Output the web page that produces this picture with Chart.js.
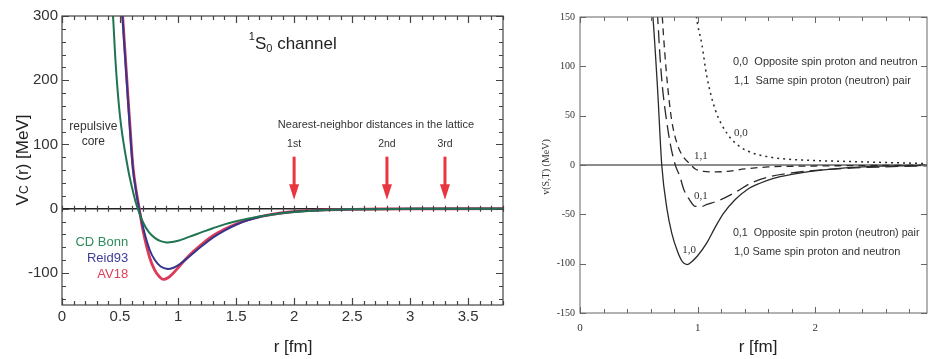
<!DOCTYPE html>
<html>
<head>
<meta charset="utf-8">
<script src="https://cdn.jsdelivr.net/npm/chart.js@4.4.0/dist/chart.umd.min.js"></script>
<style>
html, body { margin: 0; padding: 0; background: #fff; }
#wrap { position: relative; width: 929px; height: 359px; overflow: hidden; }
#leftChart { position: absolute; left: 0; top: 0; }
#rightChart { position: absolute; left: 512px; top: 0; }
</style>
</head>
<body>
<div id="wrap">
  <canvas id="leftChart" width="512" height="359"></canvas>
  <canvas id="rightChart" width="417" height="359"></canvas>
</div>
<script>
// ---- left panel: 1S0 channel potentials ----
var leftXTicks = [0, 0.5, 1, 1.5, 2, 2.5, 3, 3.5];
var leftYTicks = [-100, 0, 100, 200, 300];

var rCDBonn = [0.42, 0.44, 0.47, 0.51, 0.57, 0.61, 0.647, 0.70, 0.75, 0.80, 0.85, 0.90, 0.95, 1.00, 1.05, 1.10, 1.20, 1.30, 1.40, 1.50, 1.60, 1.76, 1.98, 2.20, 2.50, 3.00, 3.80];
var vCDBonn = [360, 299, 206, 128, 61, 28, 3, -22, -37, -45.5, -50.5, -52.5, -52, -50, -47, -43.5, -37, -30.5, -24.5, -19.5, -15.5, -10.5, -5.5, -2.7, -1, -0.3, 0];

var rReid93 = [0.50, 0.521, 0.555, 0.584, 0.612, 0.64, 0.661, 0.70, 0.755, 0.80, 0.85, 0.91, 0.96, 1.01, 1.10, 1.20, 1.30, 1.40, 1.50, 1.60, 1.76, 1.98, 2.20, 2.50, 3.00, 3.80];
var vReid93 = [360, 299, 206, 128, 61, 25, 3, -30, -64, -80, -90, -94, -92, -87, -74, -59, -45, -34, -25, -18, -10.5, -5, -2.5, -1, -0.3, 0];

var rAV18 = [0.50, 0.523, 0.557, 0.586, 0.614, 0.642, 0.663, 0.70, 0.755, 0.80, 0.84, 0.87, 0.91, 0.96, 1.01, 1.10, 1.20, 1.30, 1.40, 1.50, 1.60, 1.76, 1.98, 2.20, 2.50, 3.00, 3.80];
var vAV18 = [360, 299, 206, 128, 61, 25, 3, -36, -76, -96, -106, -110, -108, -100, -90, -72, -56, -42, -32, -24, -17.5, -10.5, -4.8, -2.4, -1, -0.3, 0];

var leftZeroR = [0, 3.8];
var leftZeroV = [0, 0];

var latticeR = [2, 2.8, 3.3];
var latticeNames = ['1st', '2nd', '3rd'];

// ---- right panel: v(S,T) by spin / isospin ----
var rightXTicks = [0, 1, 2];
var rightYTicks = [-150, -100, -50, 0, 50, 100, 150];

var r10 = [0.60, 0.62, 0.66, 0.695, 0.74, 0.78, 0.83, 0.87, 0.91, 0.95, 1.00, 1.078, 1.15, 1.22, 1.32, 1.42, 1.53, 1.645, 1.80, 1.93, 2.21, 2.55, 2.95];
var v10 = [175, 150, 76, 0, -45, -69, -88, -98, -101, -98, -92, -79, -63, -49, -35, -25, -18.5, -13.5, -9.5, -7, -3.4, -1.2, -0.3];

var r01 = [0.645, 0.66, 0.68, 0.70, 0.73, 0.77, 0.81, 0.85, 0.88, 0.93, 0.98, 1.03, 1.08, 1.19, 1.33, 1.45, 1.59, 1.80, 2.00, 2.30, 2.60, 2.95];
var v01 = [175, 150, 110, 80, 50, 20, 0, -12, -24, -35, -42, -42, -40, -35.5, -27, -18.5, -12.5, -8, -5.5, -3.2, -1.8, -0.8];

var r11 = [0.69, 0.70, 0.72, 0.745, 0.78, 0.83, 0.88, 0.935, 0.98, 1.05, 1.15, 1.25, 1.40, 1.60, 2.00, 2.50, 2.95];
var v11 = [175, 150, 115, 80, 45, 20, 8, 1, -4, -6.5, -7, -6.5, -4, -2, -1, -0.5, -0.2];

var r00 = [0.97, 0.99, 1.035, 1.078, 1.15, 1.25, 1.36, 1.47, 1.59, 1.75, 2.00, 2.30, 2.60, 2.95];
var v00 = [175, 150, 123, 90, 56, 32, 18.5, 12, 8.5, 6, 4.5, 3.5, 2.5, 1.5];

var rightZeroR = [0, 2.95];
var rightZeroV = [0, 0];

function pts(rs, vs) {
    return rs.map(function (r, i) { return { x: r, y: vs[i] }; });
}

function onGrid(v, step) {
    return Math.abs(v / step - Math.round(v / step)) < 1e-6;
}

function each(min, max, step, fn) {
    var start = Math.ceil(min / step - 1e-9);
    for (var i = start; i * step <= max + 1e-9; i++) fn(i * step);
}

// frame with inward ticks on all four sides
var frameTicks = {
    id: 'frameTicks',
    afterDatasetsDraw: function (chart, args, o) {
        var ctx = chart.ctx, a = chart.chartArea;
        var xs = chart.scales.x, ys = chart.scales.y;
        ctx.save();
        ctx.strokeStyle = o.color;
        ctx.lineWidth = o.width;
        ctx.beginPath();
        each(xs.min, xs.max, o.xMinor, function (v) {
            var px = Math.round(xs.getPixelForValue(v)) + 0.5;
            var len = onGrid(v, o.xMajor) ? o.major : o.minor;
            ctx.moveTo(px, a.bottom); ctx.lineTo(px, a.bottom - len);
            ctx.moveTo(px, a.top); ctx.lineTo(px, a.top + len);
            if (o.zeroTicks) {
                var y0 = ys.getPixelForValue(0);
                ctx.moveTo(px, y0 - 3); ctx.lineTo(px, y0 + 3);
            }
        });
        each(ys.min, ys.max, o.yMinor, function (v) {
            var py = Math.round(ys.getPixelForValue(v)) + 0.5;
            var len = onGrid(v, o.yMajor) ? o.major : o.minor;
            ctx.moveTo(a.left, py); ctx.lineTo(a.left + len, py);
            ctx.moveTo(a.right, py); ctx.lineTo(a.right - len, py);
        });
        ctx.stroke();
        ctx.strokeRect(a.left, a.top, a.right - a.left, a.bottom - a.top);
        ctx.restore();
    }
};

function drawParts(ctx, parts, x, y, align) {
    var total = 0;
    parts.forEach(function (p) {
        ctx.font = p.font;
        p.w = ctx.measureText(p.t).width;
        total += p.w;
    });
    var cx = align === 'center' ? x - total / 2 : (align === 'right' ? x - total : x);
    ctx.textAlign = 'left';
    parts.forEach(function (p) {
        ctx.font = p.font;
        ctx.fillText(p.t, cx, y + (p.dy || 0));
        cx += p.w;
    });
}

// text labels, arrows, axis titles
var notes = {
    id: 'notes',
    afterDraw: function (chart, args, o) {
        var ctx = chart.ctx, xs = chart.scales.x, ys = chart.scales.y;
        ctx.save();
        ctx.textBaseline = 'middle';
        (o.arrows || []).forEach(function (ar) {
            var px = xs.getPixelForValue(ar.x);
            var top = ys.getPixelForValue(ar.from);
            var neck = ys.getPixelForValue(ar.neck);
            var tip = ys.getPixelForValue(ar.to);
            ctx.fillStyle = ar.color;
            ctx.fillRect(px - 1.5, top, 3, neck - top + 1);
            ctx.beginPath();
            ctx.moveTo(px - 5, neck);
            ctx.lineTo(px + 5, neck);
            ctx.lineTo(px, tip);
            ctx.closePath();
            ctx.fill();
        });
        (o.items || []).forEach(function (it) {
            var px = it.px != null ? it.px : xs.getPixelForValue(it.x);
            var py = it.py != null ? it.py : ys.getPixelForValue(it.y);
            ctx.fillStyle = it.color || '#333';
            var parts = it.parts || [{ t: it.text, font: it.font }];
            if (it.rotate) {
                ctx.save();
                ctx.translate(px, py);
                ctx.rotate(-Math.PI / 2);
                drawParts(ctx, parts, 0, 0, 'center');
                ctx.restore();
            } else {
                drawParts(ctx, parts, px, py, it.align || 'left');
            }
        });
        ctx.restore();
    }
};

function fixScale(size, horizontal) {
    return function (s) {
        if (horizontal) s.height = size; else s.width = size;
        s.paddingTop = 0; s.paddingBottom = 0; s.paddingLeft = 0; s.paddingRight = 0;
    };
}

function setTicks(list) {
    return function (s) { s.ticks = list.map(function (v) { return { value: v }; }); };
}

var SANS = '"Liberation Sans", Arial, sans-serif';
var SERIF = '"Liberation Serif", "Times New Roman", serif';

var red = '#e8353f';
var arrows = latticeR.map(function (r) {
    return { x: r, from: 81, neck: 38, to: 14, color: red };
});

var leftItems = [
    { x: 1.61, y: 256, parts: [
        { t: '1', font: '11px ' + SANS, dy: -7 },
        { t: 'S', font: '17px ' + SANS },
        { t: '0', font: '11px ' + SANS, dy: 5 },
        { t: ' channel', font: '17px ' + SANS }
    ], color: '#222' },
    { x: 1.86, y: 131, text: 'Nearest-neighbor distances in the lattice', font: '11px ' + SANS, color: '#333' },
    { x: 0.27, y: 128, text: 'repulsive', font: '12px ' + SANS, align: 'center', color: '#333' },
    { x: 0.27, y: 104, text: 'core', font: '12px ' + SANS, align: 'center', color: '#333' },
    { x: 0.57, y: -53, text: 'CD Bonn', font: '13px ' + SANS, align: 'right', color: '#2e8b5a' },
    { x: 0.57, y: -77, text: 'Reid93', font: '13px ' + SANS, align: 'right', color: '#3c3c9c' },
    { x: 0.57, y: -103, text: 'AV18', font: '13px ' + SANS, align: 'right', color: '#e0405a' },
    { px: 23, py: 160, rotate: true, color: '#222', parts: [
        { t: 'V', font: '17px ' + SANS },
        { t: 'C', font: '12px ' + SANS, dy: 2 },
        { t: ' (r) [MeV]', font: '17px ' + SANS }
    ] },
    { px: 293, py: 347, text: 'r [fm]', font: '17px ' + SANS, align: 'center', color: '#222' }
];
latticeR.forEach(function (r, i) {
    leftItems.push({ x: r, y: 101, text: latticeNames[i], font: '10.5px ' + SANS, align: 'center', color: '#333' });
});

var leftChart = new Chart(document.getElementById('leftChart'), {
    type: 'line',
    data: {
        datasets: [
            { data: pts(rCDBonn, vCDBonn), borderColor: '#1f7552', borderWidth: 2 },
            { data: pts(rReid93, vReid93), borderColor: '#35358e', borderWidth: 2 },
            { data: pts(rAV18, vAV18), borderColor: '#dc3a58', borderWidth: 2.8 },
            { data: pts(leftZeroR, leftZeroV), borderColor: '#222', borderWidth: 1.5 }
        ]
    },
    options: {
        responsive: false,
        animation: false,
        layout: { padding: { left: 0, right: 9, top: 16, bottom: 0 } },
        elements: { point: { radius: 0 }, line: { tension: 0.4 } },
        scales: {
            x: {
                type: 'linear', min: 0, max: 3.8,
                grid: { display: false, drawTicks: false }, border: { display: false },
                ticks: { padding: 3, color: '#333', font: { family: SANS, size: 15 }, callback: function (v) { return String(v); } },
                afterBuildTicks: setTicks(leftXTicks),
                afterFit: fixScale(54, true)
            },
            y: {
                type: 'linear', min: -150, max: 300,
                grid: { display: false, drawTicks: false }, border: { display: false },
                ticks: { padding: 4, color: '#333', font: { family: SANS, size: 15 }, callback: function (v) { return String(v); } },
                afterBuildTicks: setTicks(leftYTicks),
                afterFit: fixScale(62, false)
            }
        },
        plugins: {
            legend: { display: false },
            tooltip: { enabled: false },
            frameTicks: { color: '#444', width: 1.2, xMinor: 0.1, xMajor: 0.5, yMinor: 20, yMajor: 100, minor: 4, major: 7, zeroTicks: true },
            notes: { items: leftItems, arrows: arrows }
        }
    },
    plugins: [frameTicks, notes]
});

var rightItems = [
    { x: 1.30, y: 104, text: '0,0  Opposite spin proton and neutron', font: '11px ' + SANS },
    { x: 1.31, y: 85, text: '1,1  Same spin proton (neutron) pair', font: '11px ' + SANS },
    { x: 1.30, y: -69, text: '0,1  Opposite spin proton (neutron) pair', font: '10.7px ' + SANS },
    { x: 1.31, y: -88, text: '1,0 Same spin proton and neutron', font: '11px ' + SANS },
    { x: 1.31, y: 32, text: '0,0', font: '11px ' + SERIF },
    { x: 0.97, y: 9, text: '1,1', font: '11px ' + SERIF },
    { x: 0.97, y: -32, text: '0,1', font: '11px ' + SERIF },
    { x: 0.87, y: -86, text: '1,0', font: '11px ' + SERIF },
    { px: 34, py: 167, rotate: true, text: 'v(S,T) (MeV)', font: '10px ' + SERIF },
    { px: 246, py: 347, text: 'r [fm]', font: '17px ' + SANS, align: 'center', color: '#222' }
];

var rightChart = new Chart(document.getElementById('rightChart'), {
    type: 'line',
    data: {
        datasets: [
            { data: pts(r10, v10), borderColor: '#2a2a2a', borderWidth: 1.3 },
            { data: pts(r01, v01), borderColor: '#2a2a2a', borderWidth: 1.3, borderDash: [13, 6] },
            { data: pts(r11, v11), borderColor: '#2a2a2a', borderWidth: 1.3, borderDash: [7, 5] },
            { data: pts(r00, v00), borderColor: '#2a2a2a', borderWidth: 1.5, borderDash: [2, 4] },
            { data: pts(rightZeroR, rightZeroV), borderColor: '#666', borderWidth: 1.3 }
        ]
    },
    options: {
        responsive: false,
        animation: false,
        layout: { padding: { left: 0, right: 2, top: 17, bottom: 0 } },
        elements: { point: { radius: 0 }, line: { cubicInterpolationMode: 'monotone' } },
        scales: {
            x: {
                type: 'linear', min: 0, max: 2.95,
                grid: { display: false, drawTicks: false }, border: { display: false },
                ticks: { padding: 9, color: '#333', font: { family: SERIF, size: 11 }, callback: function (v) { return String(v); } },
                afterBuildTicks: setTicks(rightXTicks),
                afterFit: fixScale(46, true)
            },
            y: {
                type: 'linear', min: -150, max: 150,
                grid: { display: false, drawTicks: false }, border: { display: false },
                ticks: { padding: 5, color: '#333', font: { family: SERIF, size: 10 }, callback: function (v) { return String(v); } },
                afterBuildTicks: setTicks(rightYTicks),
                afterFit: fixScale(68, false)
            }
        },
        plugins: {
            legend: { display: false },
            tooltip: { enabled: false },
            frameTicks: { color: '#666', width: 1, xMinor: 0.2, xMajor: 1, yMinor: 50, yMajor: 50, minor: 4, major: 6, zeroTicks: false },
            notes: { items: rightItems }
        }
    },
    plugins: [frameTicks, notes]
});
</script>
</body>
</html>
